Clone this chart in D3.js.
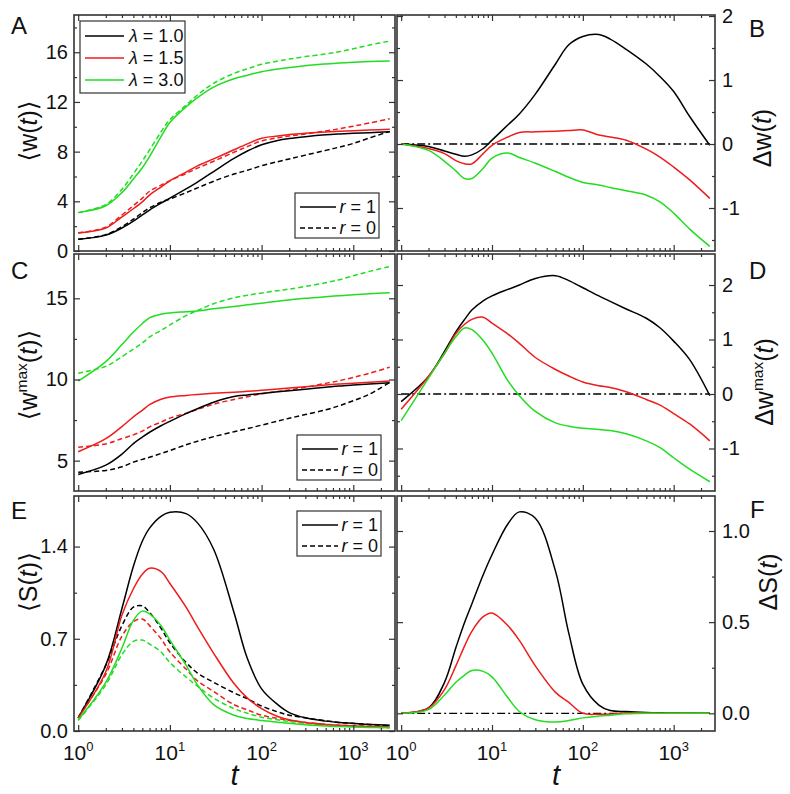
<!DOCTYPE html>
<html><head><meta charset="utf-8">
<script src="https://cdn.jsdelivr.net/npm/d3@7"></script>
<style>
body{margin:0;background:#fff}
svg text{font-family:"Liberation Sans",Arial,"DejaVu Sans",sans-serif;fill:#111}
</style>
</head><body>
<svg id="c" width="790" height="794"></svg>
<script>
// ---------------- data ----------------
const tGrid = [1,2,3,4,5,6,8,10,15,20,30,50,70,100,150,200,300,500,700,1000,1500,2500];
const lambdaLabels = ["1.0","1.5","3.0"];
const seriesColors = ["#000000","#ee1c1c","#22dd22"];

// Panel A: <w(t)>, r = 1 (solid) and r = 0 (dashed); rows: lambda 1.0, 1.5, 3.0
const wMeanR1 = [
 [0.94,1.28,1.85,2.4,2.9,3.3,3.85,4.25,5.0,5.55,6.4,7.45,8.05,8.55,8.9,9.05,9.2,9.35,9.42,9.48,9.53,9.6],
 [1.45,1.85,2.75,3.4,3.95,4.5,5.15,5.65,6.35,6.85,7.42,8.15,8.62,9.08,9.25,9.37,9.48,9.58,9.64,9.69,9.74,9.8],
 [3.09,3.64,4.7,5.8,6.7,7.6,9.2,10.35,11.6,12.35,13.2,13.87,14.15,14.43,14.65,14.77,14.92,15.06,15.14,15.2,15.25,15.3]
];
const wMeanR0 = [
 [0.94,1.32,1.96,2.56,3.09,3.47,3.92,4.19,4.7,5.08,5.62,6.2,6.5,6.87,7.19,7.41,7.72,8.1,8.36,8.66,9.1,9.62],
 [1.45,1.92,2.9,3.66,4.26,4.81,5.3,5.67,6.24,6.67,7.23,7.95,8.41,8.86,9.11,9.26,9.42,9.66,9.84,10.05,10.3,10.65],
 [3.09,3.74,4.97,6.22,7.24,8.14,9.58,10.57,11.74,12.56,13.5,14.3,14.67,15.03,15.29,15.45,15.65,15.86,16.04,16.28,16.58,16.9]
];
// Panel B: Delta w(t)
const dW = [
 [0,-0.04,-0.11,-0.16,-0.19,-0.17,-0.07,0.06,0.3,0.47,0.78,1.25,1.55,1.68,1.71,1.64,1.48,1.25,1.06,0.82,0.43,-0.02],
 [0,-0.07,-0.15,-0.26,-0.31,-0.31,-0.15,-0.02,0.11,0.18,0.19,0.2,0.21,0.22,0.14,0.11,0.06,-0.08,-0.2,-0.36,-0.56,-0.85],
 [0,-0.1,-0.27,-0.42,-0.54,-0.54,-0.38,-0.22,-0.14,-0.21,-0.3,-0.43,-0.52,-0.6,-0.64,-0.68,-0.73,-0.8,-0.9,-1.08,-1.33,-1.6]
];
// Panel C: <w^max(t)>
const wMaxR1 = [
 [4.15,4.72,5.4,6.05,6.45,6.75,7.15,7.42,7.9,8.2,8.6,8.95,9.05,9.14,9.24,9.31,9.4,9.52,9.6,9.66,9.72,9.8],
 [5.55,6.35,7.1,7.7,8.1,8.45,8.78,8.92,9.02,9.08,9.15,9.22,9.27,9.33,9.41,9.47,9.55,9.66,9.72,9.77,9.83,9.9],
 [9.9,11.1,12.15,12.92,13.45,13.8,14.02,14.1,14.17,14.22,14.35,14.5,14.6,14.7,14.82,14.9,15.0,15.1,15.16,15.22,15.28,15.35]
];
const wMaxR0 = [
 [4.29,4.4,4.62,4.91,5.08,5.21,5.44,5.62,5.98,6.2,6.48,6.78,6.97,7.19,7.44,7.61,7.84,8.13,8.38,8.69,9.09,9.83],
 [5.83,6.03,6.36,6.59,6.82,7.08,7.37,7.62,7.92,8.15,8.48,8.77,8.94,9.12,9.26,9.35,9.52,9.76,9.92,10.13,10.38,10.76],
 [10.39,10.81,11.4,11.87,12.24,12.62,13.02,13.36,13.93,14.25,14.67,15.03,15.19,15.33,15.47,15.57,15.73,15.96,16.14,16.39,16.66,16.96]
];
// Panel D: Delta w^max(t)
const dWmax = [
 [-0.14,0.32,0.78,1.14,1.37,1.54,1.71,1.8,1.92,2.0,2.12,2.17,2.08,1.95,1.8,1.7,1.56,1.39,1.22,0.97,0.63,-0.03],
 [-0.28,0.32,0.74,1.11,1.28,1.37,1.41,1.3,1.1,0.93,0.67,0.45,0.33,0.22,0.15,0.12,0.04,-0.1,-0.2,-0.36,-0.55,-0.86],
 [-0.49,0.29,0.75,1.05,1.21,1.18,0.98,0.75,0.24,-0.03,-0.32,-0.53,-0.59,-0.63,-0.65,-0.67,-0.73,-0.86,-0.98,-1.17,-1.38,-1.61]
];
// Panel E: <S(t)>
const sMeanR1 = [
 [0.1,0.5,0.93,1.25,1.44,1.54,1.63,1.66,1.65,1.58,1.38,0.9,0.55,0.32,0.2,0.14,0.1,0.075,0.065,0.058,0.05,0.043],
 [0.1,0.45,0.88,1.08,1.19,1.235,1.21,1.12,0.94,0.79,0.59,0.36,0.25,0.17,0.11,0.085,0.065,0.05,0.043,0.038,0.034,0.03],
 [0.085,0.37,0.63,0.84,0.91,0.89,0.8,0.69,0.5,0.35,0.2,0.12,0.095,0.08,0.067,0.058,0.048,0.038,0.034,0.03,0.027,0.025]
];
const sMeanR0 = [
 [0.1,0.5,0.8,0.94,0.95,0.9,0.78,0.67,0.52,0.44,0.37,0.29,0.245,0.19,0.145,0.12,0.1,0.078,0.065,0.057,0.05,0.04],
 [0.1,0.43,0.72,0.83,0.85,0.8,0.7,0.6,0.47,0.38,0.3,0.2,0.16,0.12,0.095,0.08,0.065,0.05,0.044,0.04,0.036,0.033],
 [0.08,0.35,0.58,0.68,0.69,0.66,0.6,0.52,0.41,0.34,0.25,0.17,0.135,0.105,0.085,0.072,0.058,0.045,0.039,0.034,0.029,0.025]
];
// Panel F: Delta S(t)
const dS = [
 [0,0.03,0.17,0.36,0.5,0.6,0.76,0.87,1.04,1.105,1.07,0.78,0.44,0.16,0.045,0.015,0.01,0.005,0.003,0.002,0.001,0],
 [0,0.03,0.13,0.26,0.37,0.45,0.53,0.55,0.48,0.4,0.26,0.115,0.06,0.0,-0.005,-0.004,0.003,0.002,0.001,0.002,0.001,0],
 [0,0.02,0.1,0.17,0.21,0.235,0.23,0.2,0.085,0.01,-0.035,-0.048,-0.04,-0.025,-0.015,-0.01,-0.003,0,0,0,0,0]
];

// tick values
const xMajor = [1,10,100,1000];
const xMinor = [2,3,4,5,6,7,8,9,20,30,40,50,60,70,80,90,200,300,400,500,600,700,800,900,2000];
const yTicksA = [0,4,8,12,16],        yMinorA = [2,6,10,14,18];
const yTicksB = [-1,0,1,2],           yMinorB = [-1.5,-0.5,0.5,1.5];
const yTicksC = [5,10,15],            yMinorC = [7.5,12.5];
const yTicksD = [-1,0,1,2],           yMinorD = [-1.5,-0.5,0.5,1.5];
const yTicksE = [0,0.7,1.4],          yMinorE = [0.35,1.05];
const yTicksF = [0,0.5,1.0],          yMinorF = [0.25,0.75];
const rLabels = ["1","0"];

// ---------------- layout ----------------
const svg = d3.select("#c");
const colX = [[74,395],[397,715]];
const rowY = [[15,251],[254,491],[496,731]];
const xDomain = [0.9,2850];
const FRAME = "#333";

const panels = [
 {letter:"A", col:0,row:0, yDomain:[0,19.0],   major:yTicksA, minor:yMinorA, fmt:d=>String(d), solid:wMeanR1, dashed:wMeanR0},
 {letter:"B", col:1,row:0, yDomain:[-1.672,2.016], major:yTicksB, minor:yMinorB, fmt:d=>String(d), solid:dW, zero:true},
 {letter:"C", col:0,row:1, yDomain:[3.13,17.73], major:yTicksC, minor:yMinorC, fmt:d=>String(d), solid:wMaxR1, dashed:wMaxR0},
 {letter:"D", col:1,row:1, yDomain:[-1.78,2.569], major:yTicksD, minor:yMinorD, fmt:d=>String(d), solid:dWmax, zero:true},
 {letter:"E", col:0,row:2, yDomain:[0,1.784], major:yTicksE, minor:yMinorE, fmt:d=>d.toFixed(1), solid:sMeanR1, dashed:sMeanR0, bottom:true},
 {letter:"F", col:1,row:2, yDomain:[-0.097,1.192], major:yTicksF, minor:yMinorF, fmt:d=>d.toFixed(1), solid:dS, zero:true, bottom:true}
];

function styleAxis(g){
  g.select(".domain").remove();
  g.selectAll(".tick line").attr("stroke",FRAME).attr("stroke-width",1.2);
  g.selectAll(".tick text").attr("font-size",20).attr("fill","#111");
  g.attr("font-family",null).attr("font-size",null);
}

panels.forEach(p=>{
  const [x0,x1]=colX[p.col], [y0,y1]=rowY[p.row];
  const x=d3.scaleLog().domain(xDomain).range([x0,x1]);
  const y=d3.scaleLinear().domain(p.yDomain).range([y1,y0]);
  const g=svg.append("g");

  if(p.zero){
    g.append("line").attr("x1",x(tGrid[0])).attr("x2",x(tGrid[tGrid.length-1]))
     .attr("y1",y(0)).attr("y2",y(0)).attr("stroke","#000").attr("stroke-width",1.3)
     .attr("stroke-dasharray","8,3,2,3");
  }
  const line=d3.line().x((d,i)=>x(tGrid[i])).y(d=>y(d)).curve(d3.curveCatmullRom.alpha(0.5));
  const drawSet=(arr,dash)=>arr.forEach((vals,k)=>{
    g.append("path").attr("d",line(vals)).attr("fill","none")
     .attr("stroke",seriesColors[k]).attr("stroke-width",1.5)
     .attr("stroke-dasharray",dash?"5,3":null);
  });
  if(p.dashed) drawSet(p.dashed,true);
  drawSet(p.solid,false);

  // x axes (bottom & top, ticks inward)
  g.append("g").attr("transform",`translate(0,${y1})`)
    .call(d3.axisBottom(x).tickValues(xMajor).tickSize(-6).tickFormat("")).call(styleAxis);
  g.append("g").attr("transform",`translate(0,${y1})`)
    .call(d3.axisBottom(x).tickValues(xMinor).tickSize(-3).tickFormat("")).call(styleAxis);
  g.append("g").attr("transform",`translate(0,${y0})`)
    .call(d3.axisTop(x).tickValues(xMajor).tickSize(-6).tickFormat("")).call(styleAxis);
  g.append("g").attr("transform",`translate(0,${y0})`)
    .call(d3.axisTop(x).tickValues(xMinor).tickSize(-3).tickFormat("")).call(styleAxis);

  // y axes (left & right, ticks inward)
  const left = p.col===0;
  g.append("g").attr("transform",`translate(${x0},0)`)
    .call(d3.axisLeft(y).tickValues(p.major).tickSize(-6).tickPadding(6).tickFormat(left?p.fmt:"")).call(styleAxis);
  g.append("g").attr("transform",`translate(${x0},0)`)
    .call(d3.axisLeft(y).tickValues(p.minor).tickSize(-3).tickFormat("")).call(styleAxis);
  g.append("g").attr("transform",`translate(${x1},0)`)
    .call(d3.axisRight(y).tickValues(p.major).tickSize(-6).tickPadding(7).tickFormat(left?"":p.fmt)).call(styleAxis);
  g.append("g").attr("transform",`translate(${x1},0)`)
    .call(d3.axisRight(y).tickValues(p.minor).tickSize(-3).tickFormat("")).call(styleAxis);

  // frame
  g.append("rect").attr("x",x0).attr("y",y0).attr("width",x1-x0).attr("height",y1-y0)
   .attr("fill","none").attr("stroke",FRAME).attr("stroke-width",1.6);

  // x tick labels 10^n
  if(p.bottom){
    xMajor.forEach((d,i)=>{
      const t=g.append("text").attr("x",x(d)).attr("y",y1+29).attr("text-anchor","middle").attr("font-size",21);
      t.append("tspan").text("10");
      t.append("tspan").attr("dy",-9).attr("font-size",13).text(String(i));
    });
    g.append("text").attr("x",(x0+x1)/2).attr("y",y1+54).attr("text-anchor","middle")
      .attr("font-size",29).attr("font-style","italic").text("t");
  }
});

// panel letters
const letterPos = {A:[11,34],B:[749,37],C:[11,279],D:[749,279],E:[11,519],F:[750,518]};
panels.forEach(p=>{
  svg.append("text").attr("x",letterPos[p.letter][0]).attr("y",letterPos[p.letter][1])
    .attr("font-size",24).text(p.letter);
});

// axis titles (rotated)
function yTitle(cx,cy,parts,size){
  const t=svg.append("text").attr("transform",`translate(${cx},${cy}) rotate(-90)`)
    .attr("text-anchor","middle").attr("dy","0.35em").attr("font-size",size);
  parts.forEach(pt=>{
    const s=t.append("tspan").text(pt.s);
    if(pt.i) s.attr("font-style","italic");
    if(pt.sup){ s.attr("dy",-10).attr("font-size",size*0.62); }
    if(pt.down){ s.attr("dy",10); }
  });
}
yTitle(28,131,[{s:"\u27E8w("},{s:"t",i:1},{s:")\u27E9"}],25);
yTitle(28,375,[{s:"\u27E8w"},{s:"max",sup:1},{s:"(",down:1},{s:"t",i:1},{s:")\u27E9"}],25);
yTitle(28,582,[{s:"\u27E8S("},{s:"t",i:1},{s:")\u27E9"}],25);
yTitle(762,138,[{s:"\u0394w("},{s:"t",i:1},{s:")"}],25);
yTitle(764,382,[{s:"\u0394w"},{s:"max",sup:1},{s:"(",down:1},{s:"t",i:1},{s:")"}],25);
yTitle(768,582,[{s:"\u0394S("},{s:"t",i:1},{s:")"}],25);

// legends
function legendBox(x,y,w,h){
  svg.append("rect").attr("x",x).attr("y",y).attr("width",w).attr("height",h)
    .attr("fill","#fff").attr("stroke",FRAME).attr("stroke-width",1.2);
}
// lambda legend in A
legendBox(80,21,105,72);
lambdaLabels.forEach((lab,k)=>{
  const yy=36+k*22;
  svg.append("line").attr("x1",85).attr("x2",124).attr("y1",yy).attr("y2",yy)
    .attr("stroke",seriesColors[k]).attr("stroke-width",1.5);
  const t=svg.append("text").attr("x",129).attr("y",yy).attr("dy","0.35em").attr("font-size",18);
  t.append("tspan").attr("font-style","italic").text("\u03BB");
  t.append("tspan").text(" = "+lab);
});
// r legends in A, C, E
[[295,193],[297,435],[297,511]].forEach(([bx,by])=>{
  legendBox(bx,by,84,45);
  rLabels.forEach((lab,k)=>{
    const yy=by+14+k*21;
    svg.append("line").attr("x1",bx+5).attr("x2",bx+41).attr("y1",yy).attr("y2",yy)
      .attr("stroke","#000").attr("stroke-width",1.5).attr("stroke-dasharray",k?"5,3":null);
    const t=svg.append("text").attr("x",bx+81).attr("y",yy).attr("dy","0.35em")
      .attr("text-anchor","end").attr("font-size",18);
    t.append("tspan").attr("font-style","italic").text("r");
    t.append("tspan").text(" = "+lab);
  });
});
</script>
</body></html>
